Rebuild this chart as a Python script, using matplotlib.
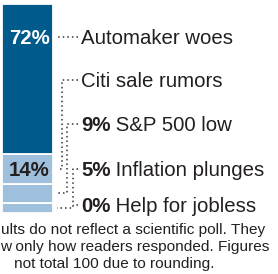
import matplotlib
matplotlib.use("Agg")
import matplotlib.pyplot as plt

plt.rcParams['font.family'] = ['Liberation Sans', 'DejaVu Sans']

# poll results, top of the bar first
topics = ["Automaker woes", "Citi sale rumors", "S&P 500 low", "Inflation plunges", "Help for jobless"]
shares = [72, 14, 9, 5, 0]

notes = ["ults do not reflect a scientific poll. They",
         "w only how readers responded. Figures",
         "not total 100 due to rounding."]

dark = "#005a8c"
light = "#9fc0dd"
ink = "#231f20"

W, H = 278, 274
fig = plt.figure(figsize=(W / 100, H / 100), dpi=100)

# the stacked bar
bar_top, bar_bot = 4, 213
axb = fig.add_axes([2 / W, (H - bar_bot) / H, 51 / W, (bar_bot - bar_top) / H])
axb.set_xlim(-0.5, 0.5)
axb.set_ylim(0, 100)
axb.axis("off")

# overlay in pixel units (y down), on top of the bar
ax = fig.add_axes([0, 0, 1, 1])
ax.set_xlim(0, W)
ax.set_ylim(H, 0)
ax.axis("off")
ax.patch.set_visible(False)
ax.set_zorder(3)

bottom = 0
centers = {}
for i in range(len(shares) - 1, -1, -1):
    v = shares[i]
    col = dark if i == 0 else light
    axb.bar(0, v, bottom=bottom, width=1, color=col, edgecolor="white", linewidth=1.3)
    centers[i] = bottom + v / 2
    bottom += v


def seg_y(i):
    # segment centre in overlay pixel coordinates
    _, y = axb.transData.transform((0, centers[i]))
    return H - y


# labels
label_x = 81
label_base = [44, 87, 131, 176, 212]
fs = 14.7
for i, t in enumerate(topics):
    if i < 2:
        ax.text(label_x, label_base[i], t, fontsize=fs, color=ink, va="baseline")
    else:
        b = ax.text(label_x, label_base[i], f"{shares[i]}%", fontsize=fs, color=ink,
                    fontweight="bold", va="baseline")
        ax.annotate(" " + t, xy=(1, 0), xycoords=b, va="bottom", ha="left",
                    fontsize=fs, color=ink)

# values inside the bar
ax.text(29, label_base[0], f"{shares[0]}%", fontsize=fs, fontweight="bold",
        color="white", ha="center", va="baseline")
ax.text(29, seg_y(1) + 7, f"{shares[1]}%", fontsize=fs, fontweight="bold",
        color=ink, ha="center", va="baseline")

# dotted leaders
dots = dict(color="#333333", linewidth=1.1, linestyle=(0, (1, 2)))
mid = [b - 7 for b in label_base]
ax.plot([78, 57], [mid[0], mid[0]], **dots)
elbows = {1: 62, 2: 67, 3: 73}
for i, ex in elbows.items():
    y = seg_y(i)
    ax.plot([78, ex, ex, 57], [mid[i], mid[i], y, y], **dots)
ax.plot([78, 73], [mid[4], mid[4]], **dots)

# footnote
note_base = [234, 251, 268]
note_x = [1, 0, 14]
for t, x, y in zip(notes, note_x, note_base):
    ax.text(x, y, t, fontsize=11.1, color=ink, va="baseline")

fig.savefig("out.png", dpi=100)
